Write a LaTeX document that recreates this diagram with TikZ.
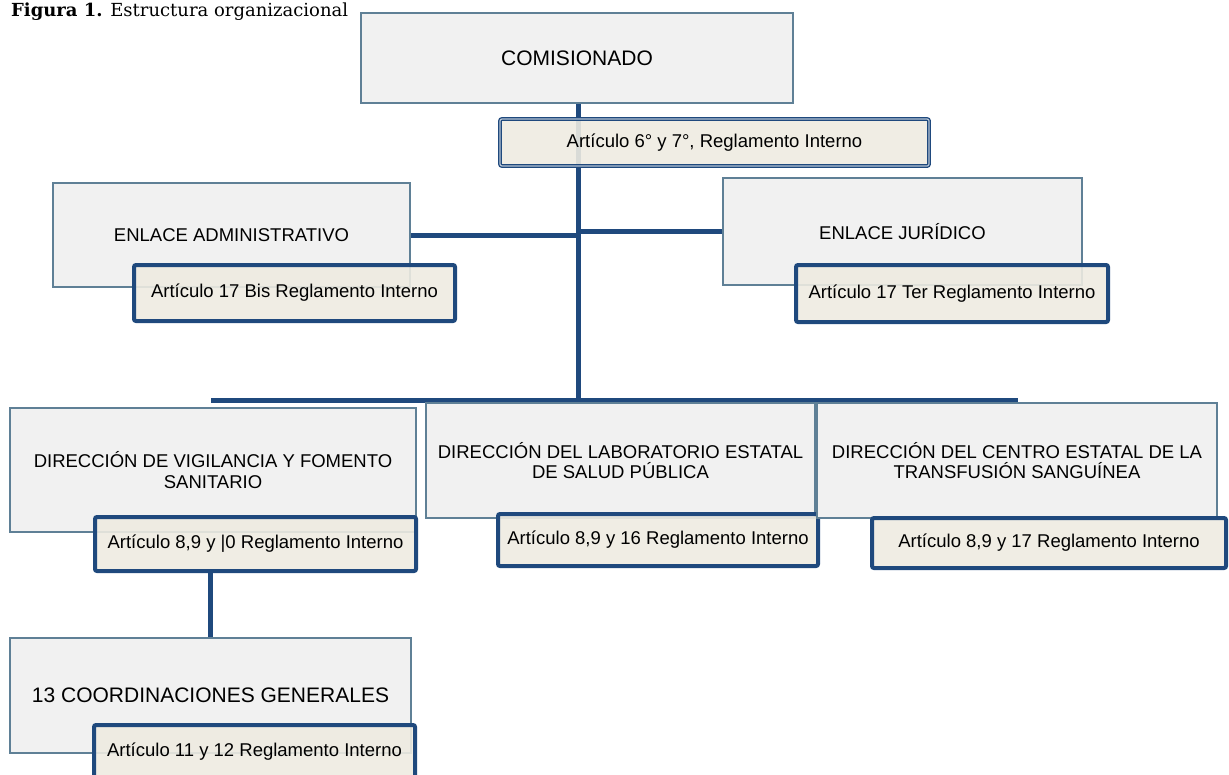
\documentclass[tikz,border=0pt]{standalone}
\usepackage{fontspec}
\setmainfont{Liberation Sans}
\newfontfamily\titlefont{DejaVu Serif}
\usetikzlibrary{backgrounds}
\definecolor{unitfill}{HTML}{F1F1F1}
\definecolor{unitline}{HTML}{5F8096}
\definecolor{artfill}{HTML}{EEEBE1}
\definecolor{navy}{HTML}{1F497D}
\definecolor{artinner}{HTML}{B4C2D2}
\tikzstyle{unit}=[draw=unitline,fill=unitfill,line width=2pt,align=center,inner sep=0pt,font=\fontsize{18.5}{20.5}\selectfont]
\tikzstyle{bigunit}=[unit,font=\fontsize{21}{23}\selectfont]
\tikzstyle{article}=[draw=navy,fill=artfill,fill opacity=0.9,text opacity=1,line width=4pt,rounded corners=2pt,inner sep=0pt,font=\fontsize{18.5}{20.5}\selectfont]
\tikzstyle{toparticle}=[article,line width=1.3pt,double=artinner,double distance=1.2pt]
\tikzstyle{link}=[draw=navy,line width=5pt]

\begin{document}
\begin{tikzpicture}[x=1pt,y=-1pt]
  \useasboundingbox (0,0) rectangle (1229,774);
  \node[anchor=base west,inner sep=0pt,font=\titlefont\fontsize{18}{20}\selectfont] (title) at (11,16)
    {\textbf{Figura 1.} Estructura organizacional};

  \node[bigunit,minimum width=432pt,minimum height=90pt] (com) at (577,58) {COMISIONADO};
  \node[toparticle,minimum width=429pt,minimum height=47pt] (comart) at (714.5,142.5) {Artículo 6° y 7°, Reglamento Interno};

  \node[unit,minimum width=357pt,minimum height=104pt] (adm) at (231.5,235) {ENLACE ADMINISTRATIVO};
  \node[article,minimum width=321pt,minimum height=56pt] (admart) at (294.5,293) {Artículo 17 Bis Reglamento Interno};
  \node[unit,minimum width=359pt,minimum height=107pt] (jur) at (902.5,231.5) {ENLACE JURÍDICO};
  \node[article,minimum width=312pt,minimum height=57pt] (jurart) at (952,293.5) {Artículo 17 Ter Reglamento Interno};

  \node[unit,minimum width=406pt,minimum height=124pt] (vig) at (213,470) {DIRECCIÓN DE VIGILANCIA Y FOMENTO\\SANITARIO};
  \node[article,minimum width=321pt,minimum height=54pt] (vigart) at (255.5,544) {Artículo 8,9 y |0 Reglamento Interno};
  \node[unit,minimum width=389pt,minimum height=115pt] (lab) at (620.5,460.5) {DIRECCIÓN DEL LABORATORIO ESTATAL\\DE SALUD PÚBLICA};
  \node[article,minimum width=320pt,minimum height=52pt] (labart) at (658,540) {Artículo 8,9 y 16 Reglamento Interno};
  \node[unit,minimum width=400pt,minimum height=115pt] (cen) at (1017,460.5) {DIRECCIÓN DEL CENTRO ESTATAL DE LA\\TRANSFUSIÓN SANGUÍNEA};
  \node[article,minimum width=354pt,minimum height=50pt] (cenart) at (1049,543) {Artículo 8,9 y 17 Reglamento Interno};

  \node[bigunit,minimum width=401pt,minimum height=115pt] (coo) at (210.5,695.5) {13 COORDINACIONES GENERALES};
  \node[article,minimum width=321pt,minimum height=54pt] (cooart) at (254.5,752) {Artículo 11 y 12 Reglamento Interno};

  % connectors
  \coordinate (hub) at (578,400);
  \coordinate (barL) at (211,400);
  \coordinate (barR) at (1018,400);
  \begin{scope}[on background layer]
    \path[link] (com.south -| hub) -- (hub);
    \path[link] (barL) -- (barR);
    \path[link] (adm.east) -- (adm.east -| hub);
    \path[link] (jur.west -| hub) -- (jur.west);
    \path[link] (vigart.south -| coo.north) -- (coo.north);
  \end{scope}
\end{tikzpicture}
\end{document}
